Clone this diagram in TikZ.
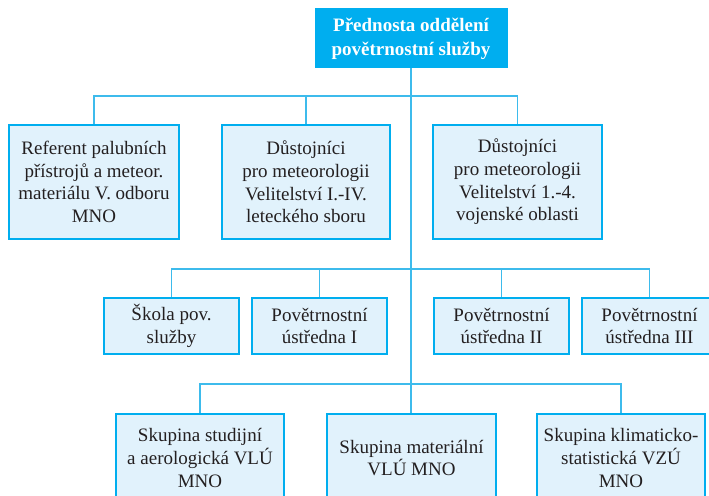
\documentclass[tikz,border=0pt]{standalone}
\usepackage{fontspec}
\setmainfont{Liberation Serif}
\definecolor{headfill}{HTML}{00AEEF}
\definecolor{boxline}{HTML}{00AEEF}
\definecolor{boxfill}{HTML}{E1F2FC}
\definecolor{wire}{HTML}{3DBBEC}
\definecolor{ink}{HTML}{231F20}
\tikzset{
  unit/.style={draw=boxline, line width=2.6pt, fill=boxfill, text=ink,
    align=center, inner sep=0pt,
    font=\fontsize{19}{22.7}\selectfont},
  head/.style={fill=headfill, draw=headfill, line width=1pt, text=white,
    align=center, inner sep=0pt,
    font=\fontsize{19}{24}\selectfont\bfseries},
  wire/.style={draw=wire, line width=1.3pt},
}
\begin{document}
\begin{tikzpicture}[x=1pt, y=-1pt]
\useasboundingbox (0,0) rectangle (709,495);
\clip (0,0) rectangle (709,495);

% chief of the department
\node[head, minimum width=192pt, minimum height=59pt] (chief) at (411,38.5)
  {Přednosta oddělení\\povětrnostní služby};

% first level
\node[unit, minimum width=170pt, minimum height=114pt] (ref) at (94,182)
  {Referent palubních\\přístrojů a meteor.\\materiálu V. odboru\\MNO};
\node[unit, minimum width=168pt, minimum height=114pt] (dustA) at (306,182)
  {Důstojníci\\pro meteorologii\\Velitelství I.-IV.\\leteckého sboru};
\node[unit, minimum width=169pt, minimum height=114pt] (dustB) at (517.5,182)
  {Důstojníci\\pro meteorologii\\Velitelství 1.-4.\\vojenské oblasti};

% second level
\node[unit, minimum width=135pt, minimum height=56pt] (skola) at (171.5,326)
  {Škola pov.\\služby};
\node[unit, minimum width=135pt, minimum height=56pt] (ustI) at (319.5,326)
  {Povětrnostní\\ústředna I};
\node[unit, minimum width=135pt, minimum height=56pt] (ustII) at (501.5,326)
  {Povětrnostní\\ústředna II};
\node[unit, minimum width=135pt, minimum height=56pt] (ustIII) at (649.5,326)
  {Povětrnostní\\ústředna III};

% third level
\node[unit, minimum width=168pt, minimum height=88pt] (studij) at (200,458)
  {Skupina studijní\\a aerologická VLÚ\\MNO};
\node[unit, minimum width=169pt, minimum height=88pt] (mater) at (411.5,458)
  {Skupina materiální\\VLÚ MNO};
\node[unit, minimum width=168pt, minimum height=88pt] (klima) at (621,458)
  {Skupina klimaticko-\\statistická VZÚ\\MNO};

% bus lines
\coordinate (busA) at (0,96);
\coordinate (busB) at (0,269);
\coordinate (busC) at (0,384);

% trunk
\draw[wire] (chief.south) -- (chief.south |- mater.north);

% first level branches
\draw[wire] (ref.north) -- (ref.north |- busA) -- (dustB.north |- busA) -- (dustB.north);
\draw[wire] (dustA.north) -- (dustA.north |- busA);

% second level branches
\draw[wire] (skola.north) -- (skola.north |- busB) -- (ustIII.north |- busB) -- (ustIII.north);
\draw[wire] (ustI.north) -- (ustI.north |- busB);
\draw[wire] (ustII.north) -- (ustII.north |- busB);

% third level branches
\draw[wire] (studij.north) -- (studij.north |- busC) -- (klima.north |- busC) -- (klima.north);
\end{tikzpicture}
\end{document}
